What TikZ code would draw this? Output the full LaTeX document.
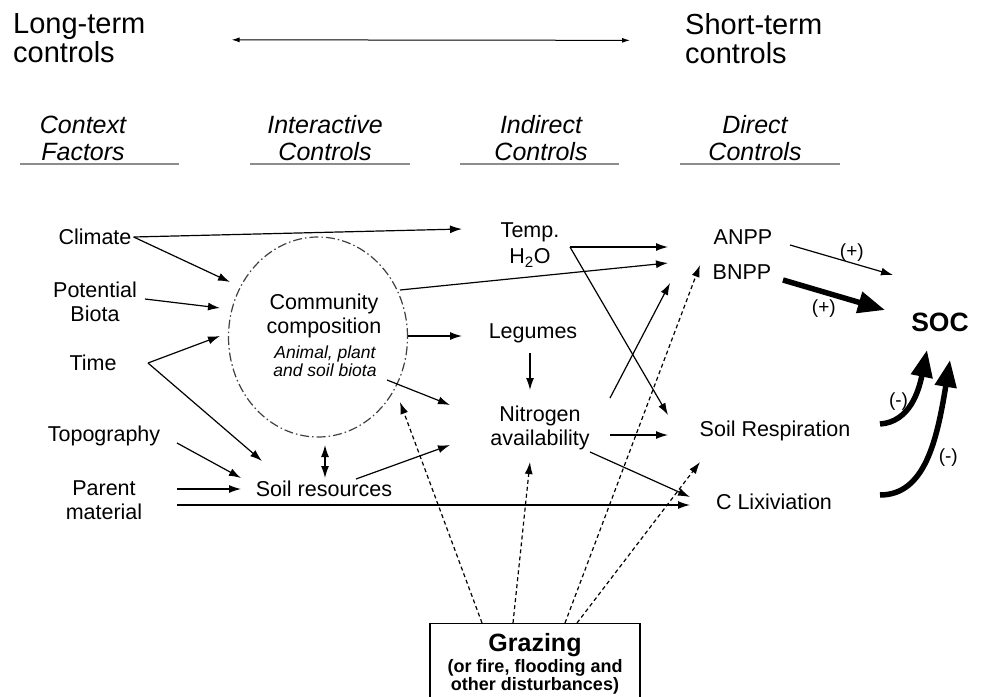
\documentclass[tikz,border=0pt]{standalone}
\usepackage{fontspec}
\setmainfont{Liberation Sans}
\usetikzlibrary{arrows.meta,positioning,shapes.geometric}

\tikzset{
  lbl/.style={inner sep=2pt,align=center,font=\fontsize{21.5}{23.5}\selectfont},
  sublbl/.style={inner sep=2pt,align=center,font=\itshape\fontsize{17.5}{18.5}\selectfont},
  hdr/.style={inner sep=0pt,align=center,font=\itshape\fontsize{25}{27}\selectfont},
  term/.style={anchor=north west,inner sep=0pt,align=left,font=\fontsize{29}{29}\selectfont},
  uline/.style={line width=2pt,black!45},
  arr/.style={-{Latex[length=12pt,width=8pt]},line width=1.2pt},
  arrboth/.style={{Latex[length=12pt,width=8pt]}-{Latex[length=12pt,width=8pt]},line width=1.2pt},
  darr/.style={arr,dash pattern=on 4pt off 3pt},
  fat/.style={-{Triangle[length=27pt,width=21pt]},line width=5.5pt},
  sgn/.style={inner sep=1pt,font=\fontsize{19}{19}\selectfont},
  commbox/.style={ellipse,draw=black!75,line width=1.2pt,minimum width=179pt,minimum height=200pt,
    dash pattern=on 9pt off 3pt on 1.5pt off 3pt},
  graz/.style={draw,line width=1.2pt,minimum width=210pt,inner ysep=10pt,align=center,
    font=\bfseries\fontsize{18}{18.5}\selectfont}
}

\begin{document}
\begin{tikzpicture}[x=1pt,y=-1pt]
\useasboundingbox (0,0) rectangle (1001,696);

\node[term] (longt) at (13,13) {Long-term\\controls};
\node[term] (shortt) at (685,13) {Short-term\\controls};
\draw[{Latex[length=8pt,width=5pt]}-{Latex[length=8pt,width=5pt]},line width=1pt]
  ([shift={(86,2)}]longt.east) -- ([shift={(-55,2)}]shortt.west);

\node[hdr] (ctx) at (83,138) {Context\\Factors};
\node[hdr] (inter) at (325,138) {Interactive\\Controls};
\node[hdr] (indir) at (541,138) {Indirect\\Controls};
\node[hdr] (direct) at (755,138) {Direct\\Controls};
\draw[uline] (20,164) -- (179,164);
\draw[uline] (250,164) -- (410,164);
\draw[uline] (460,164) -- (619,164);
\draw[uline] (680,164) -- (840,164);

% context factors
\node[lbl] (clim) at (95,237) {Climate};
\node[lbl] (biota) at (95,302) {Potential\\Biota};
\node[lbl] (time) at (93,363) {Time};
\node[lbl] (topo) at (104,436) {Topography};
\node[lbl] (parent) at (104,500) {Parent\\material};

% interactive controls
\node[commbox] (comm) at (318,337) {};
\node[lbl] (commt) at (324,316) {Community\\composition};
\node[sublbl] (commsub) at (325,361) {Animal, plant\\and soil biota};
\node[lbl] (soilres) at (324,489) {Soil resources};

% indirect controls
\node[lbl] (temp) at (530,245) {Temp.\\[3pt]H\textsubscript{2}O};
\node[lbl] (leg) at (533,333) {Legumes};
\node[lbl] (nitro) at (540,428) {Nitrogen\\availability};

% direct controls
\node[lbl] (anpp) at (743,237) {ANPP};
\node[lbl] (bnpp) at (742,272) {BNPP};
\node[lbl] (resp) at (775,431) {Soil Respiration};
\node[lbl] (lix) at (774,502) {C Lixiviation};
\node[inner sep=2pt,font=\bfseries\fontsize{26.5}{26.5}\selectfont] (soc) at (940,322) {SOC};

\node[graz,anchor=north] (graz) at (535,623)
  {{\fontsize{25}{26}\selectfont Grazing}\\[2pt](or fire, flooding and\\other disturbances)};

\draw[arr] (clim.east) -- ([shift={(-68,-16)}]temp.center);
\draw[arr] (clim.east) -- ([shift={(-88,-55)}]comm.center);
\draw[arr] ([shift={(50,-3)}]biota.center) -- ([shift={(-98,-29)}]comm.center);
\draw[arr] ([shift={(55,0)}]time.center) -- ([shift={(-98,-1)}]comm.center);
\draw[arr] ([shift={(55,0)}]time.center) -- ([shift={(-62,-28)}]soilres.center);
\draw[arr] ([shift={(73,7)}]topo.center) -- ([shift={(-83,-11)}]soilres.center);
\draw[arr] ([shift={(73,-11)}]parent.center) -- ([shift={(-83,0)}]soilres.center);
\draw[arr] ([shift={(73,5)}]parent.center) -- ([shift={(-84,3)}]lix.center);

\draw[arrboth] ([shift={(7,108)}]comm.center) -- ([shift={(1,-11)}]soilres.center);
\draw[arr] ([shift={(32,-10)}]soilres.center) -- ([shift={(-90,17)}]nitro.center);
\draw[arr] ([shift={(90,-1)}]comm.center) -- ([shift={(-71,3)}]leg.center);
\draw[arr] ([shift={(69,43)}]comm.center) -- ([shift={(-90,-23)}]nitro.center);
\draw[arr] ([shift={(82,-47)}]comm.center) -- ([shift={(-74,-9)}]bnpp.center);

\draw[arr] ([shift={(40,2)}]temp.center) -- ([shift={(-75,10)}]anpp.center);
\draw[arr] ([shift={(40,2)}]temp.center) -- ([shift={(-107,-16)}]resp.center);
\draw[arr] ([shift={(-3,20)}]leg.center) -- ([shift={(-10,-38)}]nitro.center);
\draw[arr] ([shift={(70,-30)}]nitro.center) -- ([shift={(-72,11)}]bnpp.center);
\draw[arr] ([shift={(70,7)}]nitro.center) -- ([shift={(-107,4)}]resp.center);
\draw[arr] ([shift={(50,24)}]nitro.center) -- ([shift={(-84,-5)}]lix.center);

\draw[arr] ([shift={(47,8)}]anpp.center) -- node[sgn,pos=0.6,above] {(+)} ([shift={(-47,-47)}]soc.center);
\draw[fat] ([shift={(41,8)}]bnpp.center) -- node[sgn,pos=0.4,below=4pt] {(+)} ([shift={(-55,-12)}]soc.center);
\draw[fat] ([shift={(105,-7)}]resp.center) .. controls +(30,-2) and +(-8,40) ..
  node[sgn,pos=0.5,left] {(-)} ([shift={(-13,28)}]soc.center);
\draw[fat] ([shift={(106,-7)}]lix.center) .. controls +(45,0) and +(-13,80) ..
  node[sgn,pos=0.5,right=8pt] {(-)} ([shift={(10,38)}]soc.center);

\draw[darr] ([xshift=-53pt]graz.north) -- ([shift={(82,65)}]comm.center);
\draw[darr] ([xshift=-22pt]graz.north) -- ([shift={(-10,34)}]nitro.center);
\draw[darr] ([xshift=30pt]graz.north) -- ([shift={(-42,-7)}]bnpp.center);
\draw[darr] ([xshift=42pt]graz.north) -- ([shift={(-75,31)}]resp.center);
\end{tikzpicture}
\end{document}
